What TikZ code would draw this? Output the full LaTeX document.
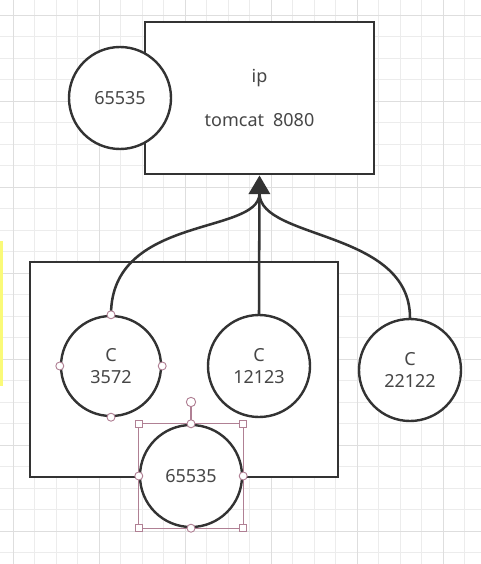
\documentclass[tikz,border=0pt]{standalone}
\usepackage{fontspec}
\setmainfont{Noto Sans}
\usetikzlibrary{arrows.meta}

\definecolor{ink}{RGB}{51,51,51}
\definecolor{txt}{RGB}{70,70,70}
\definecolor{gridminor}{RGB}{236,236,236}
\definecolor{gridmajor}{RGB}{222,222,222}
\definecolor{handle}{RGB}{176,128,148}
\definecolor{marker}{RGB}{250,250,120}

\tikzset{
  box/.style={draw=ink, line width=2.2pt, fill=white, inner sep=0pt, text=txt,
    font=\fontsize{13.5}{16.5}\selectfont, align=center},
  port/.style={circle, draw=ink, line width=1.8pt, fill=white, minimum size=76.5pt,
    inner sep=0pt, text=txt, font=\fontsize{13.5}{16.5}\selectfont, align=center},
  link/.style={draw=ink, line width=1.9pt},
  dot/.style={circle, draw=handle, fill=white, line width=0.7pt, minimum size=6pt, inner sep=0pt},
  grip/.style={rectangle, draw=handle, fill=white, line width=0.7pt, minimum size=5.5pt, inner sep=0pt},
}

\begin{document}
\begin{tikzpicture}[x=0.75pt,y=-0.75pt]
                \useasboundingbox (0,0) rectangle (481,564);
                \fill[white] (0,0) rectangle (481,564);
                % grid
                \foreach \k in {0,...,21} {
                    \draw[gridminor, line width=0.6pt] ({13.3+21.5*\k},0) -- ({13.3+21.5*\k},564);
                }
                \foreach \k in {0,...,25} {
                    \draw[gridminor, line width=0.6pt] (0,{15+21.5*\k}) -- (481,{15+21.5*\k});
                }
                \foreach \k in {0,4,...,20} {
                    \draw[gridmajor, line width=0.7pt] ({13.3+21.5*\k},0) -- ({13.3+21.5*\k},564);
                }
                \foreach \k in {0,4,...,24} {
                    \draw[gridmajor, line width=0.7pt] (0,{15+21.5*\k}) -- (481,{15+21.5*\k});
                }
                \fill[marker] (0,241) rectangle (2.5,386);

                % server and its port
                \node[box, minimum width=171.75pt, minimum height=114pt] (server) at (259.5,98) {ip\\[16pt]tomcat\enspace 8080};
                \node[port] (hostport) at (120,98) {65535};

                % local network with its clients
                \node[box, minimum width=231pt, minimum height=161.25pt] (lan) at (184,369.5) {};
                \node[port, minimum size=75pt] (c1) at (111,366) {C\\3572};
                \node[port] (c2) at (259,366) {C\\12123};
                \node[port] (c3) at (410,370) {C\\22122};
                \node[port] (natport) at (191,476) {65535};

                % connections
                \coordinate (merge) at (259.5,194);
                \draw[link, -{Triangle[width=16pt,length=14pt]}] (c2.north) -- (server.south);
                \draw[link] (c1.north) .. controls (111,215) and (258,235) .. (merge);
                \draw[link] (c3.north) .. controls (410,230) and (261,240) .. (merge);

                % handles
                \foreach \a in {north,south,east,west} {
                    \node[dot] at (c1.\a) {};
                }
                \coordinate (selnw) at (natport.north -| natport.west);
                \coordinate (selne) at (natport.north -| natport.east);
                \coordinate (selsw) at (natport.south -| natport.west);
                \coordinate (selse) at (natport.south -| natport.east);
                \draw[handle, line width=0.6pt] (selnw) rectangle (selse);
                \node[dot, minimum size=7pt] (rotate) at (191,402) {};
                \draw[handle, line width=0.8pt] (rotate) -- (natport.north);
                \foreach \c in {selnw,selne,selsw,selse} {
                    \node[grip] at (\c) {};
                }
                \foreach \a in {north,south,east,west} {
                    \node[dot] at (natport.\a) {};
                }
            \end{tikzpicture}
\end{document}
